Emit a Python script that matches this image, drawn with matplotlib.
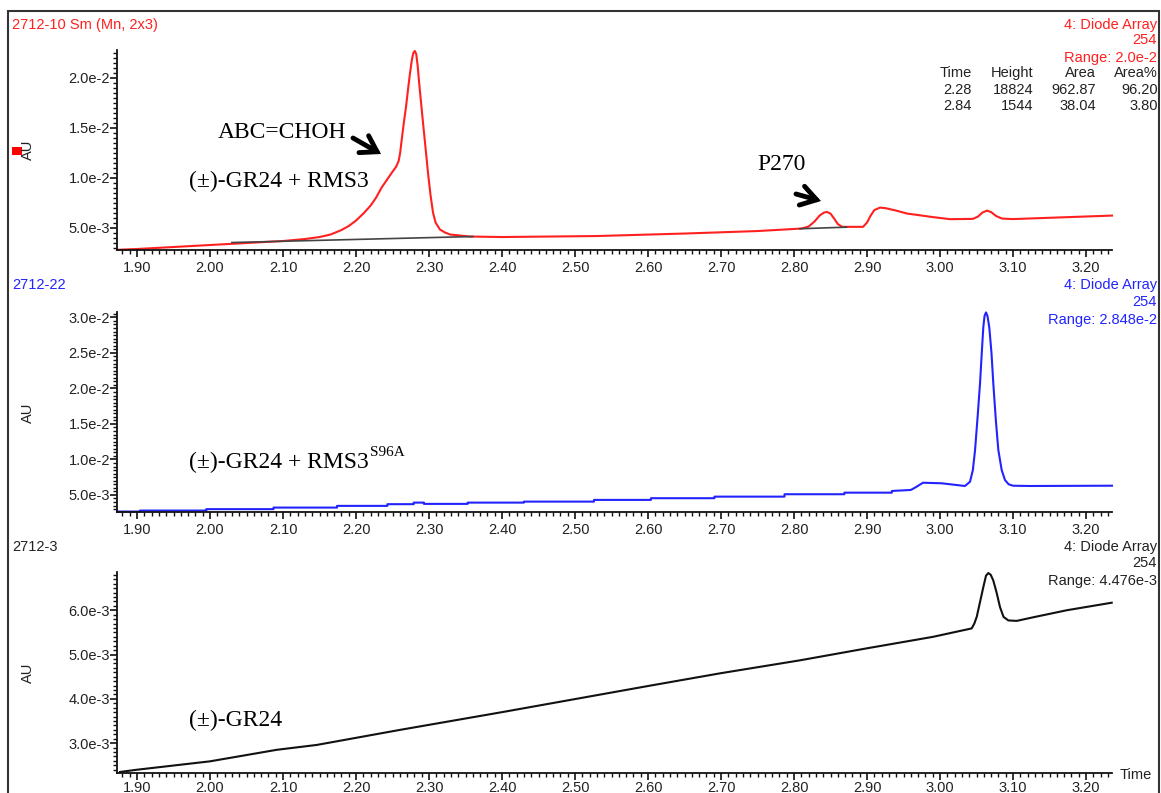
import matplotlib
matplotlib.use("Agg")
import matplotlib.pyplot as plt
from matplotlib.ticker import MultipleLocator, FixedLocator
from matplotlib.patches import Rectangle, FancyArrowPatch

# ---------------- data ----------------
red_t = [1.8726, 1.90, 2.00, 2.10, 2.13, 2.15, 2.165, 2.18, 2.19, 2.20, 2.21, 2.22, 2.2275,
         2.235, 2.2425, 2.25, 2.255, 2.2585, 2.2605, 2.2626, 2.2655, 2.2685, 2.2715, 2.274,
         2.2765, 2.2785, 2.2805, 2.2825, 2.2845, 2.2865, 2.2918, 2.2955, 2.2986, 2.302,
         2.3055, 2.309, 2.315, 2.322, 2.329, 2.356, 2.40, 2.53, 2.65, 2.75, 2.81, 2.82,
         2.828, 2.835, 2.841, 2.845, 2.85, 2.855, 2.86, 2.866, 2.8945, 2.90, 2.905, 2.91,
         2.9178, 2.925, 2.94, 2.955, 2.9685, 2.99, 3.0137, 3.045, 3.052, 3.058, 3.0644,
         3.07, 3.077, 3.085, 3.10, 3.2356]
red_v = [2.77e-3, 2.85e-3, 3.25e-3, 3.65e-3, 3.85e-3, 4.05e-3, 4.3e-3, 4.75e-3, 5.15e-3,
         5.7e-3, 6.4e-3, 7.2e-3, 8.0e-3, 9.0e-3, 9.8e-3, 1.06e-2, 1.11e-2, 1.17e-2, 1.25e-2,
         1.38e-2, 1.55e-2, 1.71e-2, 1.90e-2, 2.05e-2, 2.18e-2, 2.25e-2, 2.27e-2, 2.24e-2,
         2.12e-2, 1.95e-2, 1.55e-2, 1.28e-2, 1.05e-2, 8.3e-3, 6.5e-3, 5.5e-3, 4.8e-3, 4.5e-3,
         4.3e-3, 4.1e-3, 4.05e-3, 4.15e-3, 4.4e-3, 4.65e-3, 4.9e-3, 5.1e-3, 5.6e-3, 6.2e-3,
         6.5e-3, 6.57e-3, 6.4e-3, 5.9e-3, 5.35e-3, 5.07e-3, 5.07e-3, 5.5e-3, 6.2e-3, 6.75e-3,
         7.0e-3, 6.95e-3, 6.7e-3, 6.4e-3, 6.27e-3, 6.05e-3, 5.84e-3, 5.87e-3, 6.1e-3, 6.5e-3,
         6.7e-3, 6.55e-3, 6.15e-3, 5.9e-3, 5.85e-3, 6.2e-3]
base1_t = [2.03, 2.36]
base1_v = [3.5e-3, 4.1e-3]
base2_t = [2.808, 2.872]
base2_v = [4.88e-3, 5.04e-3]

blue_t = [1.8726, 1.904, 1.904, 1.995, 1.995, 2.087, 2.087, 2.174, 2.174, 2.243, 2.243,
          2.279, 2.279, 2.293, 2.293, 2.353, 2.353, 2.43, 2.43, 2.526, 2.526, 2.604, 2.604,
          2.691, 2.691, 2.787, 2.787, 2.869, 2.869, 2.934, 2.934, 2.96, 2.967, 2.9767,
          3.0023, 3.0342, 3.0411, 3.045, 3.048, 3.0515, 3.0548, 3.0575, 3.0593, 3.061, 3.063,
          3.065, 3.0675, 3.0705, 3.073, 3.0765, 3.0799, 3.0845, 3.089, 3.094, 3.10, 3.1233,
          3.2356]
blue_v = [2.66e-3, 2.66e-3, 2.80e-3, 2.80e-3, 3.00e-3, 3.00e-3, 3.22e-3, 3.22e-3, 3.46e-3,
          3.46e-3, 3.70e-3, 3.70e-3, 3.92e-3, 3.92e-3, 3.74e-3, 3.74e-3, 3.92e-3, 3.92e-3,
          4.06e-3, 4.06e-3, 4.30e-3, 4.30e-3, 4.54e-3, 4.54e-3, 4.76e-3, 4.76e-3, 5.10e-3,
          5.10e-3, 5.32e-3, 5.32e-3, 5.56e-3, 5.70e-3, 6.1e-3, 6.72e-3, 6.64e-3, 6.26e-3,
          6.86e-3, 8.5e-3, 1.131e-2, 1.6e-2, 2.07e-2, 2.55e-2, 2.86e-2, 3.02e-2, 3.07e-2,
          3.02e-2, 2.86e-2, 2.5e-2, 2.07e-2, 1.55e-2, 1.131e-2, 8.5e-3, 7.1e-3, 6.5e-3, 6.3e-3,
          6.26e-3, 6.3e-3]

black_t = [1.8767, 1.8996, 2.00, 2.0914, 2.1462, 2.2603, 2.40, 2.60, 2.70, 2.8082, 2.8996,
           2.9904, 3.0434, 3.047, 3.0503, 3.055, 3.0593, 3.063, 3.0662, 3.0695, 3.073, 3.0775,
           3.0822, 3.087, 3.0936, 3.1051, 3.1274, 3.1736, 3.2352]
black_v = [2.35e-3, 2.40e-3, 2.59e-3, 2.85e-3, 2.96e-3, 3.30e-3, 3.70e-3, 4.29e-3, 4.58e-3,
           4.87e-3, 5.14e-3, 5.40e-3, 5.59e-3, 5.70e-3, 5.85e-3, 6.2e-3, 6.52e-3, 6.78e-3,
           6.84e-3, 6.80e-3, 6.67e-3, 6.4e-3, 6.07e-3, 5.85e-3, 5.77e-3, 5.76e-3, 5.84e-3,
           6.00e-3, 6.17e-3]

x_ticks = [1.90, 2.00, 2.10, 2.20, 2.30, 2.40, 2.50, 2.60, 2.70, 2.80, 2.90, 3.00, 3.10, 3.20]
x_labels = ["1.90", "2.00", "2.10", "2.20", "2.30", "2.40", "2.50", "2.60", "2.70", "2.80",
            "2.90", "3.00", "3.10", "3.20"]
y1_ticks = [5e-3, 1e-2, 1.5e-2, 2e-2]
y1_labels = ["5.0e-3", "1.0e-2", "1.5e-2", "2.0e-2"]
y2_ticks = [5e-3, 1e-2, 1.5e-2, 2e-2, 2.5e-2, 3e-2]
y2_labels = ["5.0e-3", "1.0e-2", "1.5e-2", "2.0e-2", "2.5e-2", "3.0e-2"]
y3_ticks = [3e-3, 4e-3, 5e-3, 6e-3]
y3_labels = ["3.0e-3", "4.0e-3", "5.0e-3", "6.0e-3"]

peak_table = [["Time", "Height", "Area", "Area%"],
              ["2.28", "18824", "962.87", "96.20"],
              ["2.84", "1544", "38.04", "3.80"]]

# ---------------- layout ----------------
W, H = 1161, 793
fig = plt.figure(figsize=(W / 100, H / 100), dpi=100)
SANS = "Liberation Sans"
SERIF = "Liberation Serif"
TXT = "#222222"
RED = "#ff2020"
BLUE = "#2323ff"


def fx(x):
    return x / W


def fy(y):
    return 1 - y / H


XL = (1.8726, 3.2356)
left_px, right_px = 117, 1112


def make_ax(top, bottom, ylim, yt, yl, yminor, xpad=3):
    ax = fig.add_axes([fx(left_px), fy(bottom), (right_px - left_px) / W, (bottom - top) / H])
    ax.set_xlim(*XL)
    ax.set_ylim(*ylim)
    for s in ("top", "right"):
        ax.spines[s].set_visible(False)
    for s in ("left", "bottom"):
        ax.spines[s].set_linewidth(1.3)
        ax.spines[s].set_color("#111111")
    ax.xaxis.set_major_locator(FixedLocator(x_ticks))
    ax.set_xticklabels(x_labels)
    ax.xaxis.set_minor_locator(MultipleLocator(0.01))
    ax.yaxis.set_major_locator(FixedLocator(yt))
    ax.set_yticklabels(yl)
    ax.yaxis.set_minor_locator(MultipleLocator(yminor))
    ax.tick_params(axis="both", which="major", direction="out", length=5, width=1.2,
                   color="#111111", labelsize=10.5, labelcolor=TXT)
    ax.tick_params(axis="both", which="minor", direction="out", length=3, width=1.0,
                   color="#111111")
    ax.tick_params(axis="y", which="major", pad=0)
    ax.tick_params(axis="x", which="major", pad=xpad)
    for lab in ax.get_xticklabels() + ax.get_yticklabels():
        lab.set_fontfamily(SANS)
    return ax


ax1 = make_ax(50, 250, (2.75e-3, 2.28e-2), y1_ticks, y1_labels, 5e-4)
ax2 = make_ax(311.7, 511.7, (2.64e-3, 3.08e-2), y2_ticks, y2_labels, 5e-4)
ax3 = make_ax(571.7, 773.3, (2.32e-3, 6.87e-3), y3_ticks, y3_labels, 1e-4, xpad=0.5)

ax1.plot(base1_t, base1_v, color="#444444", lw=1.2, zorder=3)
ax1.plot(base2_t, base2_v, color="#444444", lw=1.2, zorder=3)
ax1.plot(red_t, red_v, color=RED, lw=1.5, zorder=2, clip_on=False)
ax2.plot(blue_t, blue_v, color=BLUE, lw=1.5, clip_on=False)
ax3.plot(black_t, black_v, color="#111111", lw=1.5, clip_on=False)

# ---------------- texts ----------------
def t(x, y, s, **kw):
    kw.setdefault("family", SANS)
    kw.setdefault("fontsize", 10.5)
    kw.setdefault("va", "center")
    return fig.text(fx(x), fy(y), s, **kw)


t(12, 25, "2712-10 Sm (Mn, 2x3)", color=RED)
t(12, 285, "2712-22", color=BLUE)
t(12, 547, "2712-3", color=TXT)

for (y, s) in [(25, "4: Diode Array"), (40, "254"), (58, "Range: 2.0e-2")]:
    t(1157, y, s, color=RED, ha="right")
for (y, s) in [(285, "4: Diode Array"), (302, "254"), (320, "Range: 2.848e-2")]:
    t(1157, y, s, color=BLUE, ha="right")
for (y, s) in [(547, "4: Diode Array"), (563, "254"), (581, "Range: 4.476e-3")]:
    t(1157, y, s, color=TXT, ha="right")

col_right = [972, 1033, 1096, 1158]
row_y = [73, 89.5, 106]
for r, row in enumerate(peak_table):
    for c, cell in enumerate(row):
        t(col_right[c], row_y[r], cell, color=TXT, ha="right")

for y in (150, 413, 673):
    t(28, y, "AU", color=TXT, rotation=90, ha="center")
t(1120, 775, "Time", color=TXT, ha="left")

fig.add_artist(Rectangle((fx(12), fy(155)), 10 / W, 8 / H, transform=fig.transFigure,
                         facecolor="#ff0000", edgecolor="none"))

# annotations (serif)
t(218, 132, "ABC=CHOH", family=SERIF, fontsize=17, color="black")
t(189, 181, "(±)-GR24 + RMS3", family=SERIF, fontsize=17, color="black")
t(757, 165, "P270", family=SERIF, fontsize=17, color="black")
main2 = t(189, 462, "(±)-GR24 + RMS3", family=SERIF, fontsize=17, color="black")
t(189, 720, "(±)-GR24", family=SERIF, fontsize=17, color="black")
fig.canvas.draw()
bb = main2.get_window_extent(renderer=fig.canvas.get_renderer())
t(bb.x1 + 1, 452, "S96A", family=SERIF, fontsize=11, color="black", ha="left")

arrow_kw = dict(arrowstyle="->,head_length=0.55,head_width=0.35", lw=3.5, color="black",
                shrinkA=0, shrinkB=0, mutation_scale=20, joinstyle="miter", capstyle="round")
fig.add_artist(FancyArrowPatch((fx(353), fy(138)), (fx(381), fy(154)),
                               transform=fig.transFigure, **arrow_kw))
fig.add_artist(FancyArrowPatch((fx(796), fy(194)), (fx(821), fy(201)),
                               transform=fig.transFigure, **arrow_kw))

# outer frame
fig.add_artist(Rectangle((fx(8), fy(800)), (1159 - 8) / W, (800 - 11) / H,
                         transform=fig.transFigure, facecolor="none", edgecolor="#333333",
                         lw=1.5))

fig.savefig("out.png", dpi=100)
